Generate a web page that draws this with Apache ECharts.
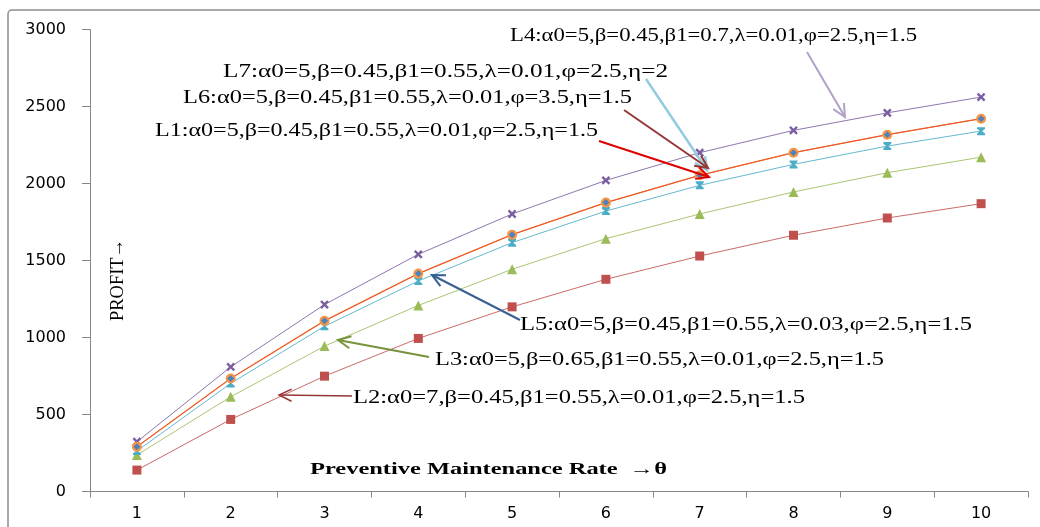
<!DOCTYPE html>
<html>
<head>
<meta charset="utf-8">
<script src="https://cdn.jsdelivr.net/npm/echarts@6/dist/echarts.min.js"></script>
<style>
html,body{margin:0;padding:0;background:#fff;}
#c{width:1040px;height:527px;}
</style>
</head>
<body>
<div id="c"></div>
<script>
// ---- data ----
const categories = ['1','2','3','4','5','6','7','8','9','10'];
const yTicks = [0, 500, 1000, 1500, 2000, 2500, 3000];
const L1 = [291, 734, 1108, 1415, 1668, 1876, 2053, 2200, 2317, 2421];
const L2 = [139, 468, 749, 994, 1199, 1378, 1529, 1664, 1776, 1869];
const L3 = [237, 615, 944, 1208, 1443, 1642, 1802, 1945, 2070, 2171];
const L4 = [323, 809, 1214, 1540, 1802, 2020, 2200, 2345, 2459, 2561];
const L5 = [263, 702, 1073, 1367, 1616, 1821, 1988, 2124, 2243, 2340];
const L6 = [291, 734, 1108, 1415, 1668, 1876, 2053, 2200, 2317, 2421];
const L7 = [291, 734, 1108, 1415, 1668, 1876, 2053, 2200, 2317, 2421];

const labelTexts = {
  L4: 'L4:\u03b10=5,\u03b2=0.45,\u03b21=0.7,\u03bb=0.01,\u03c6=2.5,\u03b7=1.5',
  L7: 'L7:\u03b10=5,\u03b2=0.45,\u03b21=0.55,\u03bb=0.01,\u03c6=2.5,\u03b7=2',
  L6: 'L6:\u03b10=5,\u03b2=0.45,\u03b21=0.55,\u03bb=0.01,\u03c6=3.5,\u03b7=1.5',
  L1: 'L1:\u03b10=5,\u03b2=0.45,\u03b21=0.55,\u03bb=0.01,\u03c6=2.5,\u03b7=1.5',
  L5: 'L5:\u03b10=5,\u03b2=0.45,\u03b21=0.55,\u03bb=0.03,\u03c6=2.5,\u03b7=1.5',
  L3: 'L3:\u03b10=5,\u03b2=0.65,\u03b21=0.55,\u03bb=0.01,\u03c6=2.5,\u03b7=1.5',
  L2: 'L2:\u03b10=7,\u03b2=0.45,\u03b21=0.55,\u03bb=0.01,\u03c6=2.5,\u03b7=1.5'
};
const yTitle = 'PROFIT\u2192';
const xTitle = 'Preventive Maintenance Rate  \u2192\u03b8';

// ---- layout of annotations (pixels) ----
const labelLayout = {
  L4: {x1: 510, x2: 917, y: 36},
  L7: {x1: 223, x2: 668, y: 72},
  L6: {x1: 183, x2: 632, y: 98},
  L1: {x1: 155, x2: 598, y: 131},
  L5: {x1: 520, x2: 972, y: 325},
  L3: {x1: 435, x2: 884, y: 360},
  L2: {x1: 353, x2: 805, y: 398}
};
const arrowLayout = [
  {from: [807, 52], to: [845, 117], color: '#b3a2c7', w: 2},
  {from: [646, 79], to: [707, 170], color: '#93cddd', w: 2.5},
  {from: [624, 110], to: [708, 168], color: '#953735', w: 2},
  {from: [599, 141], to: [709, 177], color: '#e00000', w: 2},
  {from: [520, 320], to: [432, 275], color: '#376092', w: 2},
  {from: [429, 357], to: [338, 340], color: '#77933c', w: 2},
  {from: [352, 396], to: [279, 395], color: '#953735', w: 1.5}
];

const SERIF = '"Liberation Serif", "Times New Roman", serif';
const measureCtx = document.createElement('canvas').getContext('2d');
function fitText(text, font, x1, x2, y, extra) {
  measureCtx.font = font;
  const w = measureCtx.measureText(text).width;
  const sx = (x2 - x1) / w;
  return Object.assign({
    type: 'text', x: x1, y: y, scaleX: sx, originX: 0, originY: 0,
    style: {text: text, font: font, fill: '#000', align: 'left', verticalAlign: 'middle'},
    z: 100
  }, extra || {});
}
function arrow(a) {
  const [x1, y1] = a.from, [x2, y2] = a.to;
  const ang = Math.atan2(y2 - y1, x2 - x1);
  const L = 14, spread = 0.45;
  const h1 = [x2 - L * Math.cos(ang - spread), y2 - L * Math.sin(ang - spread)];
  const h2 = [x2 - L * Math.cos(ang + spread), y2 - L * Math.sin(ang + spread)];
  return [
    {type: 'polyline', shape: {points: [[x1, y1], [x2, y2]]}, style: {stroke: a.color, lineWidth: a.w, fill: null}, z: 90},
    {type: 'polyline', shape: {points: [h1, [x2, y2], h2]}, style: {stroke: a.color, lineWidth: a.w, fill: null, lineJoin: 'miter'}, z: 90}
  ];
}

const graphics = [
  {type: 'rect', shape: {x: 8, y: 10, width: 1040, height: 540, r: 4}, style: {fill: null, stroke: '#8c8c8c', lineWidth: 1.5}, z: 0}
];
Object.keys(labelTexts).forEach(k => {
  const l = labelLayout[k];
  graphics.push(fitText(labelTexts[k], '18px ' + SERIF, l.x1, l.x2, l.y));
});
arrowLayout.forEach(a => arrow(a).forEach(g => graphics.push(g)));
// y-axis title (rotated, reads bottom to top)
(function(){
  const font = '19px ' + SERIF;
  measureCtx.font = font;
  const w = measureCtx.measureText(yTitle).width;
  graphics.push({
    type: 'text', x: 118, y: 280, rotation: Math.PI / 2,
    scaleX: 82 / w, originX: 0, originY: 0,
    style: {text: yTitle, font: font, fill: '#000', align: 'center', verticalAlign: 'middle'}, z: 100
  });
})();
graphics.push(fitText(xTitle, 'bold 16px ' + SERIF, 310, 667, 470));

const X_PATH = 'path://M3.8,0H6.2V3.8H10V6.2H6.2V10H3.8V6.2H0V3.8H3.8Z';
const STAR_PATH = 'path://M0,0H10V2L6.2,5L10,8V10H0V8L3.8,5L0,2Z';

function line(name, data, color, symbol, size, extra) {
  return Object.assign({
    name: name, type: 'line', data: data,
    symbol: symbol, symbolSize: size,
    showAllSymbol: true,
    lineStyle: {color: color, width: 1, opacity: 0.85},
    itemStyle: {color: color},
    emphasis: {disabled: true},
    animation: false
  }, extra || {});
}

const chart = echarts.init(document.getElementById('c'), null, {renderer: 'canvas'});
chart.setOption({
  animation: false,
  backgroundColor: '#fff',
  grid: {left: 90, right: 12, top: 29.5, bottom: 35.5},
  xAxis: {
    type: 'category', data: categories, boundaryGap: true,
    axisLine: {lineStyle: {color: '#868686', width: 1}},
    axisTick: {show: true, length: 6, lineStyle: {color: '#868686'}},
    axisLabel: {color: '#000', fontFamily: '"DejaVu Sans", sans-serif', fontSize: 16, margin: 14}
  },
  yAxis: {
    type: 'value', min: yTicks[0], max: yTicks[yTicks.length - 1], interval: yTicks[1] - yTicks[0],
    splitLine: {show: false},
    axisLine: {show: true, lineStyle: {color: '#868686', width: 1}},
    axisTick: {show: true, length: 8, lineStyle: {color: '#868686'}},
    axisLabel: {color: '#000', fontFamily: '"DejaVu Sans", sans-serif', fontSize: 16, margin: 24,
      formatter: v => String(v)}
  },
  series: [
    line('L2', L2, '#C0504D', 'rect', 9),
    line('L3', L3, '#9BBB59', 'triangle', 10),
    line('L5', L5, '#4BACC6', STAR_PATH, 8),
    line('L4', L4, '#7a5ea0', X_PATH, 10, {symbolRotate: 45}),
    line('L6', L6, '#F79646', 'circle', 10),
    line('L1', L1, '#4F81BD', 'diamond', 7, {lineStyle: {color: '#F79646', width: 1.2}}),
    line('L7', L7, '#e8332a', 'none', 0, {lineStyle: {color: '#e8332a', width: 1, opacity: 0.7}})
  ],
  graphic: graphics
});
</script>
</body>
</html>
